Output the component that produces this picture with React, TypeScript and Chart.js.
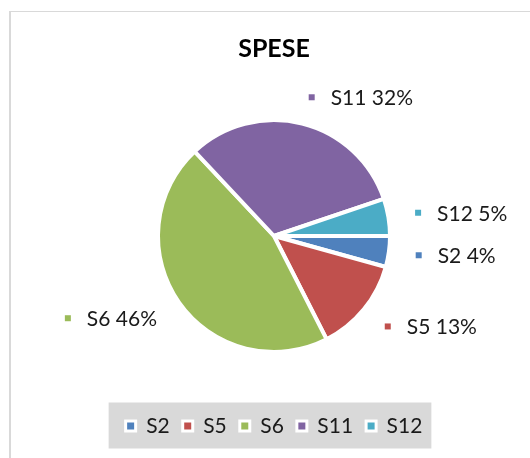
import React, { useEffect, useRef } from "react";
import { Chart, registerables } from "chart.js";

Chart.register(...registerables);

const chartTitle = "SPESE";
const categories = ["S2", "S5", "S6", "S11", "S12"];
const values = [4.3, 13.2, 45.5, 31.8, 5.2];
const colors = ["#4F81BD", "#C0504D", "#9BBB59", "#8064A2", "#4BACC6"];

const FONT = "Lato";
const TEXT_COLOR = "#1a1a1a";

const sliceLabels = {
  id: "sliceLabels",
  afterDatasetsDraw(chart: any) {
    const ctx = chart.ctx;
    const meta = chart.getDatasetMeta(0);
    const data = chart.data.datasets[0].data as number[];
    const total = data.reduce((a: number, b: number) => a + b, 0);
    ctx.save();
    ctx.font = `21px ${FONT}`;
    ctx.textBaseline = "middle";
    ctx.textAlign = "left";
    meta.data.forEach((arc: any, i: number) => {
      const { x, y, startAngle, endAngle, outerRadius } = arc.getProps(
        ["x", "y", "startAngle", "endAngle", "outerRadius"],
        true
      );
      const mid = (startAngle + endAngle) / 2;
      const r = outerRadius + 27;
      const px = x + Math.cos(mid) * r;
      const py = y + Math.sin(mid) * r;
      const text = `${chart.data.labels[i]} ${Math.round((data[i] / total) * 100)}%`;
      const tw = ctx.measureText(text).width;
      const marker = 6;
      const gap = 16;
      const left = Math.cos(mid) >= 0 ? px : px - (marker + gap + tw);
      ctx.fillStyle = colors[i];
      ctx.fillRect(left, py - marker / 2, marker, marker);
      ctx.fillStyle = TEXT_COLOR;
      ctx.fillText(text, left + marker + gap, py + 1);
    });
    ctx.restore();
  },
};

const legendBackground = {
  id: "legendBackground",
  beforeDraw(chart: any) {
    const lg = chart.legend;
    const hb = lg && lg.legendHitBoxes;
    if (!hb || !hb.length) return;
    const ctx = chart.ctx;
    const l = Math.min(...hb.map((h: any) => h.left)) - 17;
    const r = Math.max(...hb.map((h: any) => h.left + h.width)) + 9;
    const t = hb[0].top - 13;
    const b = hb[0].top + hb[0].height + 12;
    ctx.save();
    ctx.fillStyle = "#d9d9d9";
    ctx.fillRect(l, t, r - l, b - t);
    ctx.restore();
  },
};

export default function App() {
  const canvasRef = useRef<HTMLCanvasElement | null>(null);

  useEffect(() => {
    if (!canvasRef.current) return;
    const chart = new Chart(canvasRef.current, {
      type: "pie",
      data: {
        labels: categories,
        datasets: [
          {
            data: values,
            backgroundColor: colors,
            borderColor: "#ffffff",
            borderWidth: 4,
            radius: 116,
          } as any,
        ],
      },
      options: {
        animation: false,
        responsive: false,
        rotation: 90,
        layout: { padding: { left: 18, right: 0, top: 0, bottom: 11.5 } },
        plugins: {
          title: {
            display: true,
            text: chartTitle,
            color: "#000000",
            font: { family: FONT, size: 25, weight: "bold" },
            padding: { top: 34, bottom: 5.5 },
          },
          legend: {
            position: "bottom",
            labels: {
              boxWidth: 10,
              boxHeight: 10,
              padding: 13,
              color: TEXT_COLOR,
              font: { family: FONT, size: 21 },
              generateLabels: (c: any) =>
                c.data.labels.map((l: string, i: number) => ({
                  text: l,
                  fillStyle: colors[i],
                  strokeStyle: "#ffffff",
                  lineWidth: 3,
                  hidden: false,
                  index: i,
                  fontColor: TEXT_COLOR,
                })),
            },
          },
          tooltip: { enabled: false },
        },
      } as any,
      plugins: [legendBackground, sliceLabels],
    });
    return () => chart.destroy();
  }, []);

  return (
    <div
      style={{
        position: "fixed",
        left: 0,
        top: 0,
        width: 530,
        height: 458,
        overflow: "hidden",
        background: "#ffffff",
      }}
    >
      <div
        style={{
          position: "absolute",
          left: 9,
          top: 11,
          width: 600,
          height: 600,
          borderTop: "1px solid #d9d9d9",
          borderLeft: "2px solid #d9d9d9",
        }}
      />
      <canvas
        ref={canvasRef}
        width={530}
        height={458}
        style={{ position: "absolute", left: 0, top: 0, width: 530, height: 458 }}
      />
    </div>
  );
}
